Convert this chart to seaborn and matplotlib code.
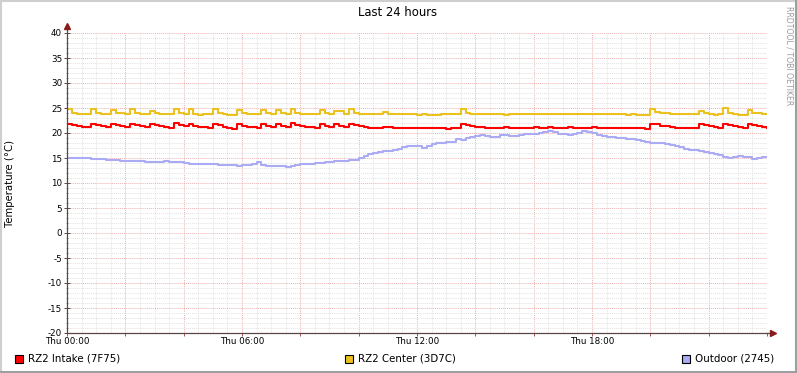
import numpy as np
import pandas as pd
import matplotlib
matplotlib.use("Agg")
import matplotlib.pyplot as plt
import seaborn as sns
from matplotlib.patches import Rectangle
from matplotlib.lines import Line2D

# ---- data (10-minute samples over the last 24 hours) ----
hours = [i / 6 for i in range(145)]

intake = [
    21.9, 21.6, 21.4, 21.3, 21.2, 21.9, 21.7, 21.5, 21.3, 21.9,
    21.6, 21.4, 21.2, 21.9, 21.6, 21.4, 21.2, 21.9, 21.6, 21.4,
    21.2, 21.1, 22.0, 21.7, 21.5, 21.9, 21.5, 21.3, 21.2, 21.1,
    21.9, 21.6, 21.3, 21.1, 20.9, 21.8, 21.5, 21.3, 21.2, 21.1,
    21.9, 21.5, 21.3, 21.9, 21.5, 21.3, 22.0, 21.7, 21.5, 21.3,
    21.2, 21.1, 21.9, 21.5, 21.3, 21.9, 21.5, 21.3, 21.9, 21.6,
    21.4, 21.2, 21.1, 21.1, 21.1, 21.3, 21.2, 21.1, 21.1, 21.1,
    21.1, 21.1, 21.1, 21.1, 21.1, 21.1, 21.1, 21.1, 20.9, 21.1,
    21.1, 21.9, 21.7, 21.4, 21.3, 21.2, 21.1, 21.1, 21.1, 21.1,
    21.2, 21.1, 21.1, 21.1, 21.1, 21.1, 21.2, 21.1, 21.1, 21.2,
    21.1, 21.1, 21.1, 21.2, 21.1, 21.1, 21.1, 21.1, 21.2, 21.1,
    21.1, 21.1, 21.1, 21.1, 21.1, 21.1, 21.1, 21.1, 21.0, 20.9,
    21.9, 21.8, 21.5, 21.4, 21.2, 21.1, 21.1, 21.1, 21.1, 21.0,
    21.9, 21.7, 21.5, 21.3, 21.1, 21.9, 21.6, 21.4, 21.2, 21.1,
    21.9, 21.6, 21.4, 21.2, 21.1,
]

center = [
    24.9, 24.0, 23.9, 23.9, 23.9, 24.9, 24.0, 23.9, 23.9, 24.6,
    24.0, 24.1, 23.9, 24.9, 24.1, 23.9, 23.9, 24.5, 24.0, 23.9,
    23.8, 23.9, 24.8, 24.0, 23.8, 24.8, 23.9, 23.7, 23.9, 23.9,
    24.8, 24.0, 23.9, 23.7, 23.7, 24.6, 24.0, 23.9, 23.9, 23.8,
    24.6, 24.0, 23.8, 24.7, 24.1, 23.9, 24.8, 24.1, 23.9, 23.9,
    23.9, 23.9, 24.7, 24.0, 23.9, 24.5, 24.5, 23.9, 24.9, 24.0,
    23.9, 23.9, 23.9, 23.9, 23.9, 24.3, 23.9, 23.9, 23.9, 23.9,
    23.9, 23.9, 23.7, 23.9, 23.7, 23.7, 23.7, 23.9, 23.9, 23.9,
    23.9, 24.9, 24.0, 23.9, 23.9, 23.9, 23.9, 23.9, 23.9, 23.9,
    23.7, 23.9, 23.9, 23.9, 23.9, 23.9, 23.9, 23.9, 23.9, 23.9,
    23.9, 23.9, 23.9, 23.9, 23.9, 23.9, 23.9, 23.9, 23.9, 23.9,
    23.9, 23.9, 23.9, 23.9, 23.9, 23.7, 23.9, 23.7, 23.7, 23.7,
    24.9, 24.3, 24.0, 24.1, 23.9, 23.9, 23.9, 23.9, 23.9, 23.9,
    24.5, 24.1, 23.9, 23.7, 23.8, 25.0, 24.1, 23.9, 23.7, 23.7,
    24.6, 24.0, 24.1, 23.9, 23.9,
]

outdoor = [
    15.1, 15.0, 15.0, 15.1, 15.0, 14.9, 14.9, 14.8, 14.7, 14.6,
    14.6, 14.5, 14.5, 14.4, 14.4, 14.4, 14.3, 14.2, 14.2, 14.3,
    14.4, 14.3, 14.2, 14.2, 14.1, 13.9, 13.9, 13.9, 13.8, 13.8,
    13.8, 13.7, 13.7, 13.6, 13.6, 13.5, 13.6, 13.7, 13.8, 14.2,
    13.6, 13.5, 13.5, 13.4, 13.4, 13.3, 13.4, 13.6, 13.8, 13.8,
    13.9, 14.0, 14.1, 14.2, 14.3, 14.4, 14.5, 14.5, 14.6, 14.6,
    15.1, 15.5, 15.8, 16.0, 16.3, 16.4, 16.5, 16.6, 16.9, 17.2,
    17.4, 17.5, 17.4, 17.1, 17.4, 17.8, 18.0, 18.1, 18.2, 18.3,
    18.8, 18.7, 19.1, 19.3, 19.5, 19.6, 19.5, 19.3, 19.2, 19.6,
    19.6, 19.4, 19.4, 19.6, 19.8, 19.9, 19.9, 20.0, 20.2, 20.4,
    20.2, 19.9, 19.8, 19.7, 19.8, 20.0, 20.4, 20.2, 20.1, 19.6,
    19.4, 19.3, 19.2, 19.1, 19.0, 18.9, 18.8, 18.7, 18.5, 18.3,
    18.1, 18.1, 18.0, 17.9, 17.7, 17.5, 17.2, 16.8, 16.7, 16.6,
    16.4, 16.3, 16.1, 15.8, 15.6, 15.3, 15.1, 15.2, 15.4, 15.3,
    15.2, 14.9, 15.0, 15.2, 15.3,
]

series_names = ["RZ2 Intake (7F75)", "RZ2 Center (3D7C)", "Outdoor (2745)"]
series_colors = ["#FF0000", "#EAC11E", "#AAAAF5"]
xtick_pos = [0, 6, 12, 18]
xtick_labels = ["Thu 00:00", "Thu 06:00", "Thu 12:00", "Thu 18:00"]
ytick_vals = list(range(-20, 41, 5))

df = pd.concat([
    pd.DataFrame({"hour": hours, "temp": intake, "series": series_names[0]}),
    pd.DataFrame({"hour": hours, "temp": center, "series": series_names[1]}),
    pd.DataFrame({"hour": hours, "temp": outdoor, "series": series_names[2]}),
])

# ---- figure ----
W, H = 797, 373
fig = plt.figure(figsize=(W / 100, H / 100), dpi=100, facecolor="white")
L, R, T, B = 67, 767, 33, 333
ax = fig.add_axes([L / W, 1 - B / H, (R - L) / W, (B - T) / H])
ax.set_facecolor("white")

# grid
minor_c = "#E2E2E2"
major_c = "#EDB2B2"
ax.set_xlim(0, 24)
ax.set_ylim(-20, 40)
ax.set_xticks(np.arange(0, 24.01, 2))
ax.set_xticks(np.arange(0, 24.01, 0.5), minor=True)
ax.set_yticks(ytick_vals)
ax.set_yticks(np.arange(-20, 40.01, 1), minor=True)
ax.grid(which="minor", color=minor_c, linestyle=(0, (1, 1)), linewidth=0.7)
ax.grid(which="major", color=major_c, linestyle=(0, (1, 1)), linewidth=0.7)
ax.set_axisbelow(True)

sns.lineplot(data=df, x="hour", y="temp", hue="series", palette=series_colors,
             hue_order=series_names, ax=ax, drawstyle="steps-post",
             linewidth=1.5, legend=False, estimator=None)

for s in ["top", "right"]:
    ax.spines[s].set_visible(False)
axis_c = "#5A4646"
for s in ["left", "bottom"]:
    ax.spines[s].set_color(axis_c)
    ax.spines[s].set_linewidth(0.9)
    ax.spines[s].set_zorder(5)

# x ticks: labels only every 6 hours
ax.set_xticklabels([])
for xp, xl in zip(xtick_pos, xtick_labels):
    ax.text(xp, -20.9, xl, transform=ax.transData, ha="center", va="top",
            fontsize=6.3, color="black")
ax.tick_params(axis="x", which="major", direction="out", length=2.5,
               color="#B05050", width=0.7)
ax.tick_params(axis="x", which="minor", length=0)
ax.tick_params(axis="y", which="major", direction="inout", length=4,
               color=axis_c, width=0.7, labelsize=6.3, pad=1.5)
ax.tick_params(axis="y", which="minor", direction="inout", length=2,
               color="#8A7A7A", width=0.5)
ax.set_yticklabels([str(v) for v in ytick_vals])
ax.set_xlabel("")
ax.set_ylabel("")

# arrows at axis ends
ax.plot([0, 0], [40, 41.2], color=axis_c, lw=0.9, clip_on=False, zorder=6)
ax.plot([0], [41.4], marker="^", color="#8B1A1A", markersize=4, clip_on=False, zorder=6)
ax.plot([24, 24.15], [-20, -20], color=axis_c, lw=0.9, clip_on=False, zorder=6)
ax.plot([24.2], [-20], marker=">", color="#8B1A1A", markersize=4, clip_on=False, zorder=6)

# title and labels
fig.text(398 / W, 1 - 13 / H, "Last 24 hours", ha="center", va="center",
         fontsize=8.4, color="black")
fig.text(10 / W, 1 - 183 / H, "Temperature (°C)", rotation=90, ha="center",
         va="center", fontsize=7.3, color="black")
fig.text(789 / W, 1 - 6 / H, "RRDTOOL / TOBI OETIKER", rotation=270, ha="center",
         va="top", fontsize=5.6, color="#9A9A9A")

# legend
legend_items = [(15, 28), (345, 358), (682, 695)]
for (bx, tx), name, col in zip(legend_items, series_names, series_colors):
    fig.add_artist(Rectangle((bx / W, 1 - 363 / H), 8 / W, 8 / H,
                             facecolor=col, edgecolor="black", linewidth=0.8,
                             transform=fig.transFigure))
    fig.text(tx / W, 1 - 358.5 / H, name, ha="left", va="center",
             fontsize=7.4, color="black")

# shaded frame
fig.add_artist(Line2D([0, 1], [1 - 1 / H, 1 - 1 / H], color="#CFCFCF", lw=1.5,
                      transform=fig.transFigure))
fig.add_artist(Line2D([1 / W, 1 / W], [0, 1], color="#CFCFCF", lw=1.5,
                      transform=fig.transFigure))
fig.add_artist(Line2D([0, 1], [1.5 / H, 1.5 / H], color="#9E9E9E", lw=2.2,
                      transform=fig.transFigure))
fig.add_artist(Line2D([1 - 1.5 / W, 1 - 1.5 / W], [0, 1], color="#9E9E9E", lw=2.2,
                      transform=fig.transFigure))

fig.savefig("out.png", dpi=100, facecolor="white")
